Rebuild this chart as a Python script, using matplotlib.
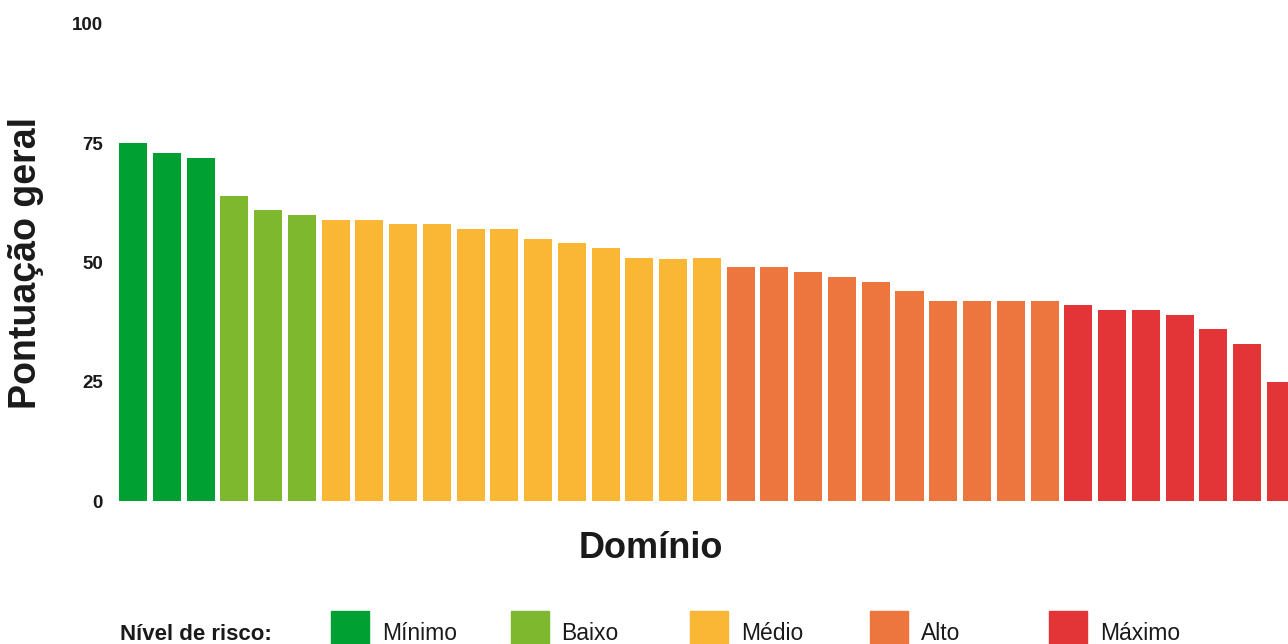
import matplotlib
matplotlib.use("Agg")
import matplotlib.pyplot as plt
from matplotlib.patches import Rectangle

plt.rcParams['font.family'] = ['Liberation Sans', 'DejaVu Sans']

scores = [75, 73, 72, 64, 61, 60, 59, 59, 58, 58, 57, 57, 55, 54, 53, 51, 50.8, 51,
          49, 49, 48, 47, 46, 44, 42, 42, 42, 42, 41, 40, 40, 39, 36, 33, 25]
risk = (["Mínimo"] * 3 + ["Baixo"] * 3 + ["Médio"] * 12 + ["Alto"] * 10 + ["Máximo"] * 7)
levels = ["Mínimo", "Baixo", "Médio", "Alto", "Máximo"]
level_colors = ["#00A032", "#7DB82F", "#F9B735", "#EC763E", "#E33538"]
yticks = [0, 25, 50, 75, 100]

cmap = dict(zip(levels, level_colors))

W, H = 1288, 644
fig = plt.figure(figsize=(W / 100, H / 100), dpi=100)
ax = fig.add_axes([119 / W, (H - 501) / H, (W - 119) / W, 477 / H])

x = list(range(len(scores)))
ax.bar(x, scores, width=0.83, color=[cmap[r] for r in risk])
ax.set_xlim(-0.415, -0.415 + (W - 119) / 33.76)
ax.set_ylim(0, 100)
ax.set_yticks(yticks)
ax.set_yticklabels([str(t) for t in yticks], fontsize=13.5, fontweight='bold')
ax.tick_params(axis='y', length=0, pad=11.5, labelcolor='#1a1a1a')
ax.set_xticks([])
for s in ax.spines.values():
    s.set_visible(False)

fig.text(26 / W, 1 - 263 / H, "Pontuação geral", rotation=90, ha='center', va='center',
         fontsize=27, fontweight='bold', color='#1a1a1a')
fig.text(651 / W, 1 - 548 / H, "Domínio", ha='center', va='center',
         fontsize=26, fontweight='bold', color='#1a1a1a')

# legend
fig.text(120 / W, 1 - 634 / H, "Nível de risco:", ha='left', va='center',
         fontsize=16, fontweight='bold', color='#1a1a1a')
for i, (lab, col) in enumerate(zip(levels, level_colors)):
    px = 331 + i * 179.5
    fig.patches.append(Rectangle((px / W, 1 - 649 / H), 38 / W, 38 / H,
                                 transform=fig.transFigure, color=col))
    fig.text((px + 51) / W, 1 - 634 / H, lab, ha='left', va='center',
             fontsize=16.5, color='#1a1a1a')

fig.savefig("out.png", dpi=100)
